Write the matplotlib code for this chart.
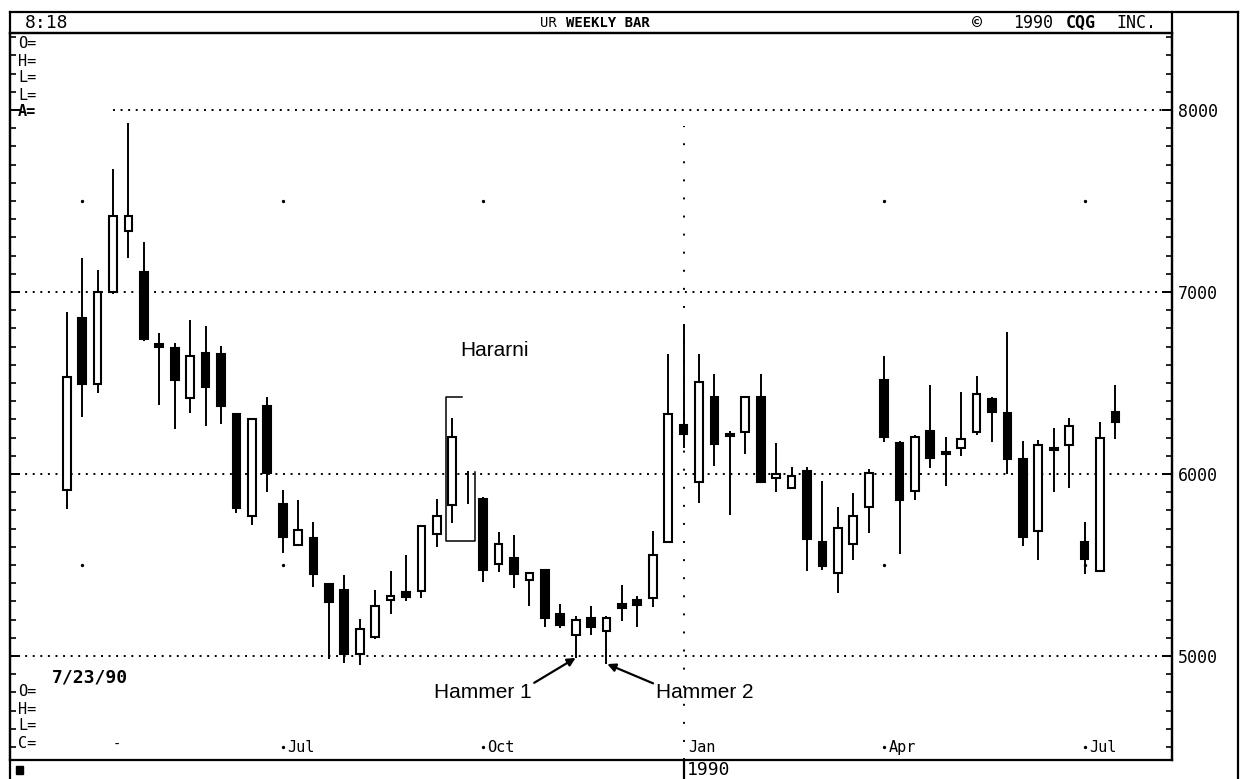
import numpy as np
import matplotlib.pyplot as plt
from matplotlib.lines import Line2D
from matplotlib.patches import Rectangle

# Weekly candles, 4/3/89 .. 7/23/90
opens = [5912, 6855, 6494, 7000, 7337, 7110, 6712, 6692, 6416, 6667,
         6657, 6331, 5769, 6376, 5835, 5612, 5651, 5398, 5361, 5014,
         5102, 5306, 5351, 5357, 5671, 5831, 5930, 5865, 5508, 5541,
         5418, 5473, 5229, 5116, 5208, 5137, 5284, 5310, 5317, 5626,
         6267, 5958, 6422, 6218, 6233, 6422, 5978, 5923, 6015, 5628,
         5455, 5618, 5821, 6518, 6172, 5907, 6237, 6120, 6145, 6233,
         6410, 6335, 6080, 5689, 6142, 6162, 5626, 5469, 6341]
highs = [6892, 7188, 7120, 7678, 7929, 7273, 6773, 6722, 6845, 6816,
         6702, 6331, 6310, 6422, 5912, 5857, 5739, 5402, 5443, 5202,
         5365, 5467, 5555, 5722, 5865, 6310, 6014, 5876, 5682, 5667,
         5463, 5478, 5284, 5218, 5273, 5218, 5392, 5331, 5687, 6660,
         6823, 6660, 6552, 6237, 6426, 6552, 6172, 6039, 6039, 5962,
         5821, 5897, 6029, 6646, 6182, 6212, 6487, 6202, 6453, 6538,
         6426, 6782, 6182, 6186, 6253, 6308, 5738, 6284, 6491]
lows = [5810, 6316, 6443, 6990, 7188, 6729, 6378, 6249, 6337, 6263,
        6274, 5786, 5718, 5902, 5565, 5606, 5378, 4984, 4963, 4949,
        5096, 5229, 5304, 5320, 5600, 5733, 5835, 5408, 5463, 5376,
        5273, 5161, 5153, 4990, 5116, 4956, 5194, 5160, 5270, 5622,
        6141, 5840, 6043, 5775, 6111, 5958, 5903, 5917, 5465, 5473,
        5347, 5530, 5677, 6178, 5561, 5860, 6035, 5933, 6100, 6212,
        6178, 5999, 5602, 5526, 5901, 5921, 5453, 5465, 6192]
closes = [6535, 6494, 7000, 7420, 7420, 6743, 6700, 6514, 6647, 6480,
          6376, 5814, 6300, 6004, 5653, 5692, 5453, 5296, 5014, 5147,
          5276, 5331, 5325, 5714, 5769, 6202, 5930, 5473, 5616, 5453,
          5459, 5208, 5173, 5198, 5161, 5208, 5263, 5282, 5555, 6328,
          6219, 6504, 6166, 6208, 6422, 5958, 5999, 5988, 5642, 5494,
          5703, 5769, 6003, 6206, 5860, 6202, 6090, 6110, 6192, 6440,
          6339, 6080, 5652, 6162, 6132, 6263, 5536, 6198, 6288]

price_levels = [5000, 6000, 7000, 8000]
month_cols = [1, 14, 27, 40, 53, 66]
month_names = ["", "Jul", "Oct", "Jan", "Apr", "Jul"]

W, H = 1242, 779
fig = plt.figure(figsize=(W / 100, H / 100), dpi=100)
ax = fig.add_axes([10 / W, 1 - 760 / H, 1162 / W, 727 / H])
XMIN, XMAX = -3.68, 71.67
YMIN, YMAX = 4429, 8423
ax.set_xlim(XMIN, XMAX)
ax.set_ylim(YMIN, YMAX)

mono = "DejaVu Sans Mono"

# dotted price lines
dots = (0, (1, 2.9))
for lev in price_levels:
    start = 3.0 if lev == 8000 else XMIN
    ax.hlines(lev, start, XMAX, colors="black", linestyles=dots, lw=1.4, zorder=1)

# sparse grid dots and the Jan divider
for col, name in zip(month_cols, month_names):
    if col == 40:
        ax.vlines(col, YMIN, 7910, colors="black", linestyles=(0, (1, 8.3)), lw=1.4, zorder=1)
        continue
    ax.plot([col, col], [7500, 5500], ls="none", marker="o", ms=1.4, color="black", zorder=1)
for col, name in zip(month_cols, month_names):
    if name:
        if col != 40:
            ax.plot(col, 4500, ls="none", marker="o", ms=1.4, color="black")
        ax.annotate(name, (col, 4500), xytext=(3, 0), textcoords="offset points",
                    ha="left", va="center", fontsize=11, family=mono)

# candles
x = np.arange(len(opens))
o = np.array(opens); h = np.array(highs); l = np.array(lows); c = np.array(closes)
ax.vlines(x, l, h, colors="black", lw=1.4, zorder=3)
has_body = o != c
up = (c > o)
colors = np.where(up, "white", "black")
ax.bar(x[has_body], (c - o)[has_body], bottom=o[has_body], width=0.5,
       color=colors[has_body], edgecolor="black", linewidth=1.5, zorder=4)

# Harami bracket
ax.plot([25.61, 24.57, 24.57, 26.47, 26.47], [6423, 6423, 5632, 5632, 6011],
        color="black", lw=1.1, zorder=2)

sans = "Liberation Sans"
ax.text(25.5, 6676, "Hararni", fontsize=15, family=sans, ha="left", va="center")
ax.annotate("Hammer 1", xy=(33, 4990), xytext=(23.8, 4802), fontsize=15, family=sans,
            ha="left", va="center",
            arrowprops=dict(arrowstyle="-|>", color="black", lw=1.6, mutation_scale=12,
                            shrinkA=0, shrinkB=0, relpos=(1.0, 0.9)))
ax.annotate("Hammer 2", xy=(35.05, 4956), xytext=(38.2, 4802), fontsize=15, family=sans,
            ha="left", va="center",
            arrowprops=dict(arrowstyle="-|>", color="black", lw=1.6, mutation_scale=12,
                            shrinkA=0, shrinkB=0, relpos=(0.0, 0.9)))

# axes cosmetics
ax.set_xticks([])
ax.set_yticks(price_levels)
ax.set_yticks(np.arange(4500, 8401, 100), minor=True)
ax.tick_params(axis="y", which="both", left=True, right=True, labelleft=False,
               labelright=True, direction="in", color="black")
ax.tick_params(axis="y", which="major", length=7, width=1.4, pad=4, labelsize=12,
               labelfontfamily=mono)
ax.tick_params(axis="y", which="minor", length=4, width=1.2)
for s in ax.spines.values():
    s.set_linewidth(1.6)

# outer frame and header
def fx(px):
    return px / W

def fy(py):
    return 1 - py / H

frame = [([10, 1238], [12, 12]), ([10, 10], [12, 779]), ([10, 1172], [33, 33]),
         ([1172, 1172], [12, 760]), ([1238, 1238], [12, 779]), ([684, 684], [760, 779])]
for xs, ys in frame:
    fig.add_artist(Line2D([fx(v) for v in xs], [fy(v) for v in ys], color="black", lw=1.6))

fig.text(fx(25), fy(23), "8:18", fontsize=13, family=mono, va="center")
fig.text(fx(540), fy(23), "UR", fontsize=10, family=mono, va="center")
fig.text(fx(566), fy(23), "WEEKLY BAR", fontsize=10, family=mono, va="center", weight="bold")
fig.text(fx(972), fy(23), "©", fontsize=12, family=mono, va="center", weight="bold")
fig.text(fx(1013), fy(23), "1990", fontsize=12, family=mono, va="center")
fig.text(fx(1066), fy(23), "CQG", fontsize=12, family=mono, va="center", weight="bold")
fig.text(fx(1116), fy(23), "INC.", fontsize=12, family=mono, va="center")

for lab, py in zip(["O=", "H=", "L=", "L=", "A="], [43, 61, 78, 95, 111]):
    fig.text(fx(18), fy(py), lab, fontsize=11, family=mono, va="center",
             weight="bold" if lab == "A=" else "normal")
fig.text(fx(52), fy(677), "7/23/90", fontsize=13, family=mono, va="center", weight="bold")
for lab, py in zip(["O=", "H=", "L=", "C="], [692, 709, 726, 743]):
    fig.text(fx(18), fy(py), lab, fontsize=11, family=mono, va="center")
fig.text(fx(113), fy(745), "-", fontsize=10, family=mono, va="center")

fig.text(fx(687), fy(770), "1990", fontsize=13, family=mono, va="center")
fig.add_artist(Rectangle((fx(16), fy(774)), 7 / W, 8 / H, transform=fig.transFigure,
                         color="black"))

fig.savefig("out.png", dpi=100, facecolor="white")
